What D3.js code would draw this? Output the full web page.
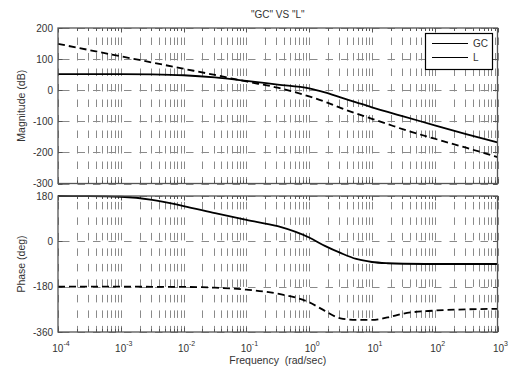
<!DOCTYPE html>
<html>
<head>
<meta charset="utf-8">
<script src="https://cdn.jsdelivr.net/npm/d3@7"></script>
<style>
  body { margin: 0; background: #fff; }
  svg text { font-family: "Liberation Sans", Arial, sans-serif; fill: #333; }
</style>
</head>
<body>
<div id="chart"></div>
<script>
// frequency points (rad/sec)
const freq = [1e-4, 3.16e-4, 1e-3, 3.16e-3, 1e-2, 3.16e-2, 0.1, 0.316, 1, 1.78, 3.16, 5.62, 10, 17.8, 31.6, 100, 316, 1000];

// magnitude (dB)
const magGC = [52, 52, 52, 51, 48, 41, 30, 18, 6, -7, -23, -39, -55, -70, -84, -113, -141, -168];
const magL  = [149, 129, 109, 89, 69, 49, 28, 8, -20, -37, -57, -75, -92, -109, -126, -156, -185, -215];

// phase (deg)
const phaseGC = [180, 179.5, 177, 165, 140, 112, 85, 60, 15, -18, -46, -70, -82, -87, -89, -90, -90, -90];
const phaseL  = [-180, -180, -180, -180.5, -181, -184, -192, -208, -242, -276, -306, -312, -312, -302, -287, -275, -270, -268];

const seriesNames = ["GC", "L"];
const magTicks = [-300, -200, -100, 0, 100, 200];
const phaseTicks = [-360, -180, 0, 180];
const xTicksMajor = [1e-4, 1e-3, 1e-2, 1e-1, 1, 10, 100, 1000];

const width = 511, height = 372;
const left = 58, right = 497.5;

const svg = d3.select("#chart").append("svg")
    .attr("width", width)
    .attr("height", height);

const x = d3.scaleLog().domain([1e-4, 1e3]).range([left, right]);

function panel(top, bottom, yDomain, yTicks, data, yLabel, dashOffset) {
    const y = d3.scaleLinear().domain(yDomain).range([bottom, top]);
    const g = svg.append("g");

    // vertical grid (minor + major), dashed
    g.append("g")
        .selectAll("line")
        .data(x.ticks())
        .join("line")
        .attr("x1", d => Math.round(x(d)) + 0.5)
        .attr("x2", d => Math.round(x(d)) + 0.5)
        .attr("y1", top)
        .attr("y2", bottom)
        .attr("stroke", "#8a8a8a")
        .attr("stroke-width", 1)
        .attr("stroke-dasharray", "7.5,8")
        .attr("stroke-dashoffset", dashOffset);

    // horizontal grid
    g.append("g")
        .selectAll("line")
        .data(yTicks)
        .join("line")
        .attr("x1", left)
        .attr("x2", right)
        .attr("y1", d => Math.round(y(d)) + 0.5)
        .attr("y2", d => Math.round(y(d)) + 0.5)
        .attr("stroke", "#8a8a8a")
        .attr("stroke-width", 1)
        .attr("stroke-dasharray", "7.5,8")
        .attr("stroke-dashoffset", -4);

    // inward tick marks on x (top and bottom) and y (left and right)
    const tk = g.append("g").attr("stroke", "#555").attr("stroke-width", 1);
    tk.selectAll("line.b")
        .data(x.ticks())
        .join("line")
        .attr("class", "b")
        .attr("x1", d => Math.round(x(d)) + 0.5)
        .attr("x2", d => Math.round(x(d)) + 0.5)
        .attr("y1", bottom)
        .attr("y2", d => bottom - (xTicksMajor.includes(d) ? 4.5 : 3));
    tk.selectAll("line.t")
        .data(x.ticks())
        .join("line")
        .attr("class", "t")
        .attr("x1", d => Math.round(x(d)) + 0.5)
        .attr("x2", d => Math.round(x(d)) + 0.5)
        .attr("y1", top)
        .attr("y2", d => top + (xTicksMajor.includes(d) ? 4.5 : 3));
    tk.selectAll("line.l")
        .data(yTicks)
        .join("line")
        .attr("class", "l")
        .attr("x1", left)
        .attr("x2", left + 4.5)
        .attr("y1", d => Math.round(y(d)) + 0.5)
        .attr("y2", d => Math.round(y(d)) + 0.5);
    tk.selectAll("line.r")
        .data(yTicks)
        .join("line")
        .attr("class", "r")
        .attr("x1", right - 4.5)
        .attr("x2", right)
        .attr("y1", d => Math.round(y(d)) + 0.5)
        .attr("y2", d => Math.round(y(d)) + 0.5);

    // y tick labels
    g.append("g")
        .selectAll("text")
        .data(yTicks)
        .join("text")
        .attr("x", left - 5)
        .attr("y", d => y(d) + 3.5)
        .attr("text-anchor", "end")
        .attr("font-size", 10)
        .text(d => d);

    // y label
    g.append("text")
        .attr("transform", `translate(25,${(top + bottom) / 2}) rotate(-90)`)
        .attr("text-anchor", "middle")
        .attr("font-size", 10.5)
        .text(yLabel);

    // curves
    const line = d3.line()
        .curve(d3.curveMonotoneX)
        .x((d, i) => x(freq[i]))
        .y(d => y(d));

    g.append("path")
        .attr("d", line(data[0]))
        .attr("fill", "none")
        .attr("stroke", "#000")
        .attr("stroke-width", 1.8);
    g.append("path")
        .attr("d", line(data[1]))
        .attr("fill", "none")
        .attr("stroke", "#000")
        .attr("stroke-width", 1.8)
        .attr("stroke-dasharray", "7,4");

    // box
    g.append("rect")
        .attr("x", left)
        .attr("y", top)
        .attr("width", right - left)
        .attr("height", bottom - top)
        .attr("fill", "none")
        .attr("stroke", "#555")
        .attr("stroke-width", 1.3);

    return y;
}

panel(28, 183.5, [-300, 200], magTicks, [magGC, magL], "Magnitude (dB)", 6);
panel(196, 332, [-360, 180], phaseTicks, [phaseGC, phaseL], "Phase (deg)", 9.6);

// x tick labels 10^n
const xl = svg.append("g")
    .selectAll("text")
    .data(xTicksMajor)
    .join("text")
    .attr("x", d => x(d) + 3)
    .attr("y", 352)
    .attr("text-anchor", "middle")
    .attr("font-size", 10);
xl.append("tspan").text("10");
xl.append("tspan")
    .attr("dy", -6)
    .attr("font-size", 7)
    .text(d => Math.round(Math.log10(d)));

// x label
svg.append("text")
    .attr("x", (left + right) / 2)
    .attr("y", 364)
    .attr("text-anchor", "middle")
    .attr("font-size", 10.5)
    .attr("xml:space", "preserve")
    .style("white-space", "pre")
    .text("Frequency  (rad/sec)");

// title
svg.append("text")
    .attr("x", (left + right) / 2)
    .attr("y", 18)
    .attr("text-anchor", "middle")
    .attr("font-size", 10)
    .text('"GC" VS "L"');

// legend (both entries drawn solid, as in the original)
const leg = svg.append("g");
leg.append("rect")
    .attr("x", 425.5)
    .attr("y", 33.5)
    .attr("width", 67)
    .attr("height", 36)
    .attr("fill", "#fff")
    .attr("stroke", "#000")
    .attr("stroke-width", 1.2);
seriesNames.forEach((name, i) => {
    const ly = 43.5 + i * 14;
    leg.append("line")
        .attr("x1", 432)
        .attr("x2", 468)
        .attr("y1", ly)
        .attr("y2", ly)
        .attr("stroke", "#000")
        .attr("stroke-width", 1);
    leg.append("text")
        .attr("x", 473)
        .attr("y", ly + 3.5)
        .attr("font-size", 10)
        .text(name);
});
</script>
</body>
</html>
